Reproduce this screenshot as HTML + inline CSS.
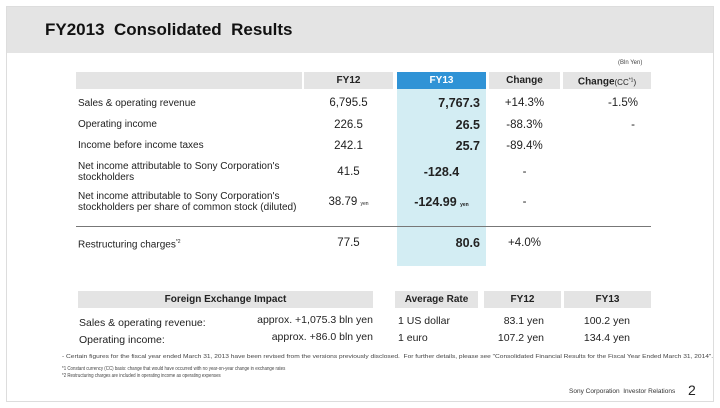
<!DOCTYPE html>
<html><head><meta charset="utf-8"><style>
*{margin:0;padding:0;box-sizing:border-box}
body{width:720px;height:408px;background:#fff;font-family:"Liberation Sans",Arial,sans-serif;color:#222;position:relative;overflow:hidden}
.a{position:absolute;white-space:nowrap}
.frame{position:absolute;left:6px;top:6px;width:708px;height:396px;border:1px solid #ddd}
.hdr{position:absolute;left:7px;top:7px;width:706px;height:46px;background:#e4e4e4}
.th{position:absolute;background:#e4e4e4;font-weight:bold;font-size:10px;text-align:center;line-height:17px;height:17px}
.r{text-align:right}
.c{text-align:center}
.lbl{font-size:10px;line-height:11px}
.v{font-size:11.5px}
.b{font-weight:bold;font-size:12.5px}
.small{font-size:5px}
.fn{transform-origin:0 0;color:#444}
</style></head><body>
<div class="frame"></div>
<div class="hdr"></div>
<div class="a" style="left:45px;top:20px;font-size:17px;font-weight:bold;color:#111">FY2013&nbsp; Consolidated&nbsp; Results</div>
<div class="a" style="left:618px;top:60px;font-size:6px;color:#444">(Bln Yen)</div>

<div class="th" style="left:76px;top:72px;width:226px"></div>
<div class="th" style="left:304px;top:72px;width:89px">FY12</div>
<div class="th" style="left:397px;top:72px;width:89px;background:#2f93d6;color:#fff">FY13</div>
<div class="th" style="left:489px;top:72px;width:71px">Change</div>
<div class="th" style="left:563px;top:72px;width:88px">Change<span style="font-weight:normal;font-size:8px">(CC<sup style="font-size:5px">*1</sup>)</span></div>
<div class="a" style="left:397px;top:89px;width:89px;height:177px;background:#d3edf3"></div>

<div class="a lbl" style="left:78px;top:98px">Sales &amp; operating revenue</div>
<div class="a v c" style="left:304px;top:97px;width:89px">6,795.5</div>
<div class="a b r" style="left:397px;top:96px;width:83px">7,767.3</div>
<div class="a v c" style="left:489px;top:97px;width:71px">+14.3%</div>
<div class="a v r" style="left:563px;top:97px;width:75px">-1.5%</div>

<div class="a lbl" style="left:78px;top:119px">Operating income</div>
<div class="a v c" style="left:304px;top:119px;width:89px">226.5</div>
<div class="a b r" style="left:397px;top:118px;width:83px">26.5</div>
<div class="a v c" style="left:489px;top:119px;width:71px">-88.3%</div>
<div class="a v r" style="left:563px;top:119px;width:72px">-</div>

<div class="a lbl" style="left:78px;top:140px">Income before income taxes</div>
<div class="a v c" style="left:304px;top:140px;width:89px">242.1</div>
<div class="a b r" style="left:397px;top:139px;width:83px">25.7</div>
<div class="a v c" style="left:489px;top:140px;width:71px">-89.4%</div>

<div class="a lbl" style="left:78px;top:161px">Net income attributable to Sony Corporation's<br>stockholders</div>
<div class="a v c" style="left:304px;top:166px;width:89px">41.5</div>
<div class="a b c" style="left:397px;top:165px;width:89px">-128.4</div>
<div class="a v c" style="left:489px;top:166px;width:71px">-</div>

<div class="a lbl" style="left:78px;top:191px">Net income attributable to Sony Corporation's<br>stockholders per share of common stock (diluted)</div>
<div class="a v c" style="left:304px;top:196px;width:89px">38.79 <span class="small">yen</span></div>
<div class="a b c" style="left:397px;top:195px;width:89px">-124.99 <span class="small">yen</span></div>
<div class="a v c" style="left:489px;top:196px;width:71px">-</div>

<div class="a" style="left:76px;top:226px;width:575px;height:1px;background:#777"></div>

<div class="a lbl" style="left:78px;top:237px">Restructuring charges<sup style="font-size:5px">*2</sup></div>
<div class="a v c" style="left:304px;top:237px;width:89px">77.5</div>
<div class="a b r" style="left:397px;top:236px;width:83px">80.6</div>
<div class="a v c" style="left:489px;top:237px;width:71px">+4.0%</div>

<div class="th" style="left:78px;top:291px;width:295px">Foreign Exchange Impact</div>
<div class="th" style="left:395px;top:291px;width:83px">Average Rate</div>
<div class="th" style="left:484px;top:291px;width:77px">FY12</div>
<div class="th" style="left:564px;top:291px;width:87px">FY13</div>

<div class="a" style="left:79px;top:317px;font-size:10.5px">Sales &amp; operating revenue:</div>
<div class="a r" style="left:230px;top:314px;width:143px;font-size:10.5px">approx. +1,075.3 bln yen</div>
<div class="a" style="left:398px;top:315px;font-size:10.5px">1 US dollar</div>
<div class="a r" style="left:484px;top:315px;width:60px;font-size:10.5px">83.1 yen</div>
<div class="a r" style="left:564px;top:315px;width:66px;font-size:10.5px">100.2 yen</div>

<div class="a" style="left:79px;top:334px;font-size:10.5px">Operating income:</div>
<div class="a r" style="left:230px;top:331px;width:143px;font-size:10.5px">approx. +86.0 bln yen</div>
<div class="a" style="left:398px;top:332px;font-size:10.5px">1 euro</div>
<div class="a r" style="left:484px;top:332px;width:60px;font-size:10.5px">107.2 yen</div>
<div class="a r" style="left:564px;top:332px;width:66px;font-size:10.5px">134.4 yen</div>

<div class="a fn" style="left:62px;top:354px;font-size:5.5px;transform:scaleX(1.2)">- Certain figures for the fiscal year ended March 31, 2013 have been revised from the versions previously disclosed.&nbsp; For further details, please see "Consolidated Financial Results for the Fiscal Year Ended March 31, 2014".</div>
<div class="a fn" style="left:62px;top:366px;font-size:5px;transform:scaleX(0.88)">*1 Constant currency (CC) basis: change that would have occurred with no year-on-year change in exchange rates</div>
<div class="a fn" style="left:62px;top:373px;font-size:5px;transform:scaleX(0.88)">*2 Restructuring charges are included in operating income as operating expenses</div>
<div class="a" style="left:569px;top:388px;font-size:6.5px;color:#333">Sony Corporation&nbsp; Investor Relations</div>
<div class="a" style="left:688px;top:382px;font-size:14px;color:#222">2</div>
</body></html>
